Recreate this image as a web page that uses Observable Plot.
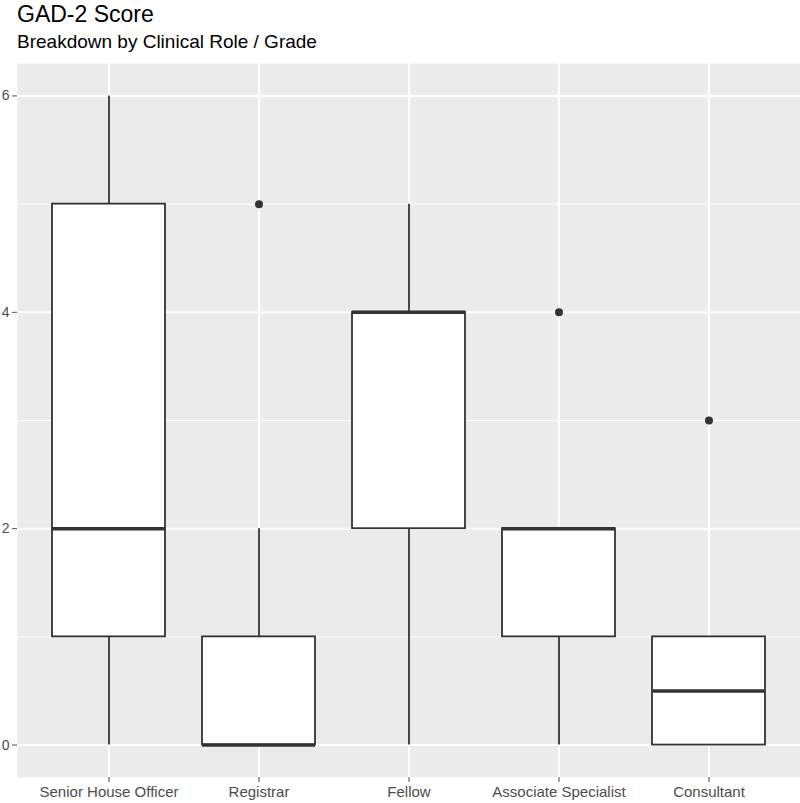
<!DOCTYPE html>
<html>
<head>
<meta charset="utf-8">
<script src="https://cdn.jsdelivr.net/npm/d3@7"></script>
<script src="https://cdn.jsdelivr.net/npm/@observablehq/plot@0.6"></script>
<style>
  body { margin: 0; background: #fff; font-family: "Liberation Sans", Arial, sans-serif; }
  #wrap { width: 800px; }
  .title { font-size: 23px; line-height: 28px; height: 28px; padding-left: 17px; color: #000; }
  .subtitle { font-size: 19px; line-height: 28px; height: 28px; padding-left: 17px; color: #000; }
  svg { display: block; overflow: visible; }
</style>
</head>
<body>
<div id="wrap">
  <div class="title">GAD-2 Score</div>
  <div class="subtitle">Breakdown by Clinical Role / Grade</div>
  <div id="chart"></div>
</div>
<script>
const roles = ["Senior House Officer", "Registrar", "Fellow", "Associate Specialist", "Consultant"];
const whiskerLow = [0, 0, 0, 0, 0];
const q1 = [1, 0, 2, 1, 0];
const median = [2, 0, 4, 2, 0.5];
const q3 = [5, 1, 4, 2, 1];
const whiskerHigh = [6, 2, 5, 2, 1];
const outlierRole = ["Registrar", "Associate Specialist", "Consultant"];
const outlierValue = [5, 4, 3];
const yTicks = [0, 2, 4, 6];
const yMinorTicks = [1, 3, 5];

const boxes = roles.map((r, i) => ({
  role: r, lo: whiskerLow[i], q1: q1[i], med: median[i], q3: q3[i], hi: whiskerHigh[i]
}));
const outliers = outlierRole.map((r, i) => ({role: r, value: outlierValue[i]}));

const dark = "#333333";
const chart = Plot.plot({
  width: 800,
  height: 747,
  marginLeft: 17,
  marginRight: 0,
  marginTop: 7,
  marginBottom: 26,
  style: {fontFamily: "'Liberation Sans', Arial, sans-serif", background: "#fff", overflow: "visible"},
  x: {type: "band", domain: roles, paddingInner: 0.25, paddingOuter: 0.225, label: null},
  y: {domain: [-0.3, 6.3], label: null},
  marks: [
    Plot.frame({fill: "#ebebeb", stroke: null}),
    Plot.ruleY(yMinorTicks, {stroke: "#fff", strokeWidth: 1}),
    Plot.ruleY(yTicks, {stroke: "#fff", strokeWidth: 2}),
    Plot.ruleX(roles, {x: d => d, stroke: "#fff", strokeWidth: 2}),
    Plot.ruleX(boxes, {x: "role", y1: "lo", y2: "hi", stroke: dark, strokeWidth: 1.8}),
    Plot.barY(boxes, {x: "role", y1: "q1", y2: "q3", fill: "#fff", stroke: dark, strokeWidth: 1.8}),
    Plot.tickY(boxes, {x: "role", y: "med", stroke: dark, strokeWidth: 3.5}),
    Plot.dot(outliers, {x: "role", y: "value", r: 4, fill: dark, stroke: null}),
    Plot.axisY({ticks: yTicks, tickFormat: d => String(d), tickSize: 5, tickPadding: 3, fontSize: 14, color: "#4d4d4d", label: null}),
    Plot.axisX({tickSize: 5, tickPadding: 4, fontSize: 15, color: "#4d4d4d", label: null})
  ]
});
document.getElementById("chart").appendChild(chart);
</script>
</body>
</html>
